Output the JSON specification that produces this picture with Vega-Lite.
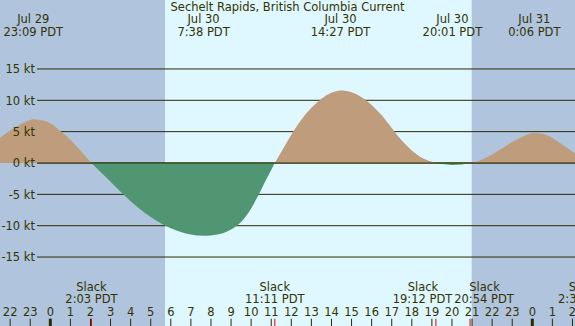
{
  "$schema": "https://vega.github.io/schema/vega-lite/v6.json",
  "width": 575,
  "height": 326,
  "autosize": {"type": "none"},
  "padding": 0,
  "background": "#b0c4de",
  "config": {
    "view": {"stroke": null},
    "axis": {"disable": true},
    "text": {"font": "DejaVu Sans", "fontSize": 11.5, "color": "#333300", "baseline": "alphabetic"}
  },
  "datasets": {
    "daylight": [{"start": 5.711, "end": 20.982, "kind": "day"}],
    "levels": [
      {"v": 15, "label": "15 kt"}, {"v": 10, "label": "10 kt"}, {"v": 5, "label": "5 kt"},
      {"v": 0, "label": "0 kt"}, {"v": -5, "label": "-5 kt"}, {"v": -10, "label": "-10 kt"},
      {"v": -15, "label": "-15 kt"}
    ],
    "curve": [
      {"h": -2.505, "v": 4.0}, {"h": -2.0, "v": 5.2}, {"h": -1.5, "v": 6.15}, {"h": -1.0, "v": 6.85},
      {"h": -0.85, "v": 6.97}, {"h": -0.5, "v": 6.85}, {"h": 0, "v": 6.35}, {"h": 0.5, "v": 5.1},
      {"h": 1.0, "v": 3.7}, {"h": 1.5, "v": 2.0}, {"h": 1.95, "v": 0.35}, {"h": 2.05, "v": 0},
      {"h": 2.15, "v": -0.33}, {"h": 2.5, "v": -1.45}, {"h": 3.0, "v": -3.0}, {"h": 3.5, "v": -4.6},
      {"h": 4.0, "v": -6.1}, {"h": 4.5, "v": -7.45}, {"h": 5.0, "v": -8.6}, {"h": 5.5, "v": -9.6},
      {"h": 6.0, "v": -10.4}, {"h": 6.5, "v": -11.0}, {"h": 7.0, "v": -11.4}, {"h": 7.63, "v": -11.6},
      {"h": 8.0, "v": -11.55}, {"h": 8.25, "v": -11.45}, {"h": 8.5, "v": -11.28}, {"h": 8.75, "v": -11.0},
      {"h": 9.0, "v": -10.62}, {"h": 9.25, "v": -10.1}, {"h": 9.5, "v": -9.4}, {"h": 9.75, "v": -8.45},
      {"h": 10.0, "v": -7.25}, {"h": 10.25, "v": -5.8}, {"h": 10.5, "v": -4.25}, {"h": 10.75, "v": -2.65},
      {"h": 11.0, "v": -1.1}, {"h": 11.1, "v": -0.48},
      {"h": 11.18, "v": 0}, {"h": 11.26, "v": 0.45}, {"h": 11.5, "v": 1.75}, {"h": 12.0, "v": 4.5},
      {"h": 12.5, "v": 6.9}, {"h": 13.0, "v": 8.8}, {"h": 13.5, "v": 10.25}, {"h": 14.0, "v": 11.2},
      {"h": 14.45, "v": 11.58}, {"h": 15.0, "v": 11.3}, {"h": 15.5, "v": 10.5}, {"h": 16.0, "v": 9.25},
      {"h": 16.5, "v": 7.6}, {"h": 17.0, "v": 5.6}, {"h": 17.5, "v": 3.6}, {"h": 18.0, "v": 2.0},
      {"h": 18.5, "v": 0.85}, {"h": 19.0, "v": 0.2}, {"h": 19.2, "v": 0}, {"h": 19.5, "v": -0.17},
      {"h": 20.0, "v": -0.3}, {"h": 20.5, "v": -0.22}, {"h": 20.9, "v": 0}, {"h": 21.5, "v": 0.55},
      {"h": 22.0, "v": 1.35}, {"h": 22.5, "v": 2.35}, {"h": 23.0, "v": 3.35}, {"h": 23.5, "v": 4.2},
      {"h": 24.1, "v": 4.8}, {"h": 24.5, "v": 4.65}, {"h": 25.0, "v": 4.0}, {"h": 25.5, "v": 2.9},
      {"h": 26.126, "v": 1.5}
    ],
    "extremes": [
      {"h": -0.85, "date": "Jul 29", "time": "23:09 PDT"},
      {"h": 7.63, "date": "Jul 30", "time": "7:38 PDT"},
      {"h": 14.45, "date": "Jul 30", "time": "14:27 PDT"},
      {"h": 20.02, "date": "Jul 30", "time": "20:01 PDT"},
      {"h": 24.1, "date": "Jul 31", "time": "0:06 PDT"}
    ],
    "slacks": [
      {"h": 2.05, "time": "2:03 PDT", "group": "alone"},
      {"h": 11.18, "time": "11:11 PDT", "group": "alone"},
      {"h": 19.2, "time": "19:12 PDT", "group": "early"},
      {"h": 20.9, "time": "20:54 PDT", "group": "late"},
      {"h": 26.58, "time": "2:35 PDT", "group": "alone"}
    ],
    "hours": [
      {"h": -2, "label": "22"}, {"h": -1, "label": "23"}, {"h": 0, "label": "0"}, {"h": 1, "label": "1"},
      {"h": 2, "label": "2"}, {"h": 3, "label": "3"}, {"h": 4, "label": "4"}, {"h": 5, "label": "5"},
      {"h": 6, "label": "6"}, {"h": 7, "label": "7"}, {"h": 8, "label": "8"}, {"h": 9, "label": "9"},
      {"h": 10, "label": "10"}, {"h": 11, "label": "11"}, {"h": 12, "label": "12"}, {"h": 13, "label": "13"},
      {"h": 14, "label": "14"}, {"h": 15, "label": "15"}, {"h": 16, "label": "16"}, {"h": 17, "label": "17"},
      {"h": 18, "label": "18"}, {"h": 19, "label": "19"}, {"h": 20, "label": "20"}, {"h": 21, "label": "21"},
      {"h": 22, "label": "22"}, {"h": 23, "label": "23"}, {"h": 24, "label": "0"}, {"h": 25, "label": "1"},
      {"h": 26, "label": "2"}
    ],
    "title": [{"text": "Sechelt Rapids, British Columbia Current"}]
  },
  "layer": [
    {
      "data": {"name": "daylight"},
      "mark": {"type": "rect", "color": "#dff7ff"},
      "encoding": {
        "x": {"field": "start", "type": "quantitative", "scale": {"domain": [-2.505, 26.126], "nice": false, "zero": false}, "axis": null},
        "x2": {"field": "end"},
        "y": {"datum": 26, "type": "quantitative", "scale": {"domain": [-26, 26], "nice": false, "zero": false}, "axis": null},
        "y2": {"datum": -26}
      }
    },
    {
      "data": {"name": "levels"},
      "mark": {"type": "rule", "color": "#2b2b00", "strokeWidth": 1},
      "encoding": {
        "y": {"field": "v", "type": "quantitative"},
        "x": {"datum": -0.662, "type": "quantitative"},
        "x2": {"datum": 26.126}
      }
    },
    {
      "data": {"name": "curve"},
      "transform": [{"filter": "datum.v >= 0"}],
      "mark": {"type": "area", "orient": "vertical", "interpolate": "monotone", "color": "#be9c7c"},
      "encoding": {
        "x": {"field": "h", "type": "quantitative"},
        "y": {"field": "v", "type": "quantitative"},
        "y2": {"datum": 0}
      }
    },
    {
      "data": {"name": "curve"},
      "transform": [{"filter": "datum.v <= 0"}],
      "mark": {"type": "area", "orient": "vertical", "interpolate": "monotone", "color": "#509673"},
      "encoding": {
        "x": {"field": "h", "type": "quantitative"},
        "y": {"field": "v", "type": "quantitative"},
        "y2": {"datum": 0}
      }
    },
    {
      "data": {"name": "levels"},
      "transform": [{"filter": "datum.v == 0"}],
      "mark": {"type": "rule", "color": "#2b2b00", "strokeWidth": 1},
      "encoding": {
        "y": {"field": "v", "type": "quantitative"},
        "x": {"datum": -0.662, "type": "quantitative"},
        "x2": {"datum": 26.126}
      }
    },
    {
      "data": {"name": "levels"},
      "mark": {"type": "text", "align": "right", "dx": -2, "dy": 4.3},
      "encoding": {
        "y": {"field": "v", "type": "quantitative"},
        "x": {"datum": -0.662, "type": "quantitative"},
        "text": {"field": "label"}
      }
    },
    {
      "data": {"name": "title"},
      "mark": {"type": "text", "align": "center"},
      "encoding": {
        "x": {"datum": 11.81, "type": "quantitative"},
        "y": {"datum": 24.25, "type": "quantitative"},
        "text": {"field": "text"}
      }
    },
    {
      "data": {"name": "extremes"},
      "mark": {"type": "text", "align": "center"},
      "encoding": {
        "x": {"field": "h", "type": "quantitative"},
        "y": {"datum": 22.28, "type": "quantitative"},
        "text": {"field": "date"}
      }
    },
    {
      "data": {"name": "extremes"},
      "mark": {"type": "text", "align": "center"},
      "encoding": {
        "x": {"field": "h", "type": "quantitative"},
        "y": {"datum": 20.31, "type": "quantitative"},
        "text": {"field": "time"}
      }
    },
    {
      "data": {"name": "slacks"},
      "transform": [{"filter": "datum.group == 'alone'"}],
      "layer": [
        {
          "mark": {"type": "text", "align": "center", "text": "Slack"},
          "encoding": {
            "x": {"field": "h", "type": "quantitative"},
            "y": {"datum": -20.47, "type": "quantitative"}
          }
        },
        {
          "mark": {"type": "text", "align": "center"},
          "encoding": {
            "x": {"field": "h", "type": "quantitative"},
            "y": {"datum": -22.38, "type": "quantitative"},
            "text": {"field": "time"}
          }
        }
      ]
    },
    {
      "data": {"name": "slacks"},
      "transform": [{"filter": "datum.group == 'early'"}],
      "layer": [
        {
          "mark": {"type": "text", "align": "center", "text": "Slack", "dx": -13},
          "encoding": {
            "x": {"field": "h", "type": "quantitative"},
            "y": {"datum": -20.47, "type": "quantitative"}
          }
        },
        {
          "mark": {"type": "text", "align": "center", "dx": -13.4},
          "encoding": {
            "x": {"field": "h", "type": "quantitative"},
            "y": {"datum": -22.38, "type": "quantitative"},
            "text": {"field": "time"}
          }
        }
      ]
    },
    {
      "data": {"name": "slacks"},
      "transform": [{"filter": "datum.group == 'late'"}],
      "layer": [
        {
          "mark": {"type": "text", "align": "center", "text": "Slack", "dx": 14.5},
          "encoding": {
            "x": {"field": "h", "type": "quantitative"},
            "y": {"datum": -20.47, "type": "quantitative"}
          }
        },
        {
          "mark": {"type": "text", "align": "center", "dx": 14},
          "encoding": {
            "x": {"field": "h", "type": "quantitative"},
            "y": {"datum": -22.38, "type": "quantitative"},
            "text": {"field": "time"}
          }
        }
      ]
    },
    {
      "data": {"name": "hours"},
      "mark": {"type": "text", "align": "center"},
      "encoding": {
        "x": {"field": "h", "type": "quantitative"},
        "y": {"datum": -24.36, "type": "quantitative"},
        "text": {"field": "label"}
      }
    },
    {
      "data": {"name": "hours"},
      "mark": {"type": "rule", "color": "#2b2b00", "strokeWidth": 1},
      "encoding": {
        "x": {"field": "h", "type": "quantitative"},
        "y": {"datum": -24.84, "type": "quantitative"},
        "y2": {"datum": -26}
      }
    },
    {
      "data": {"name": "hours"},
      "transform": [{"filter": "datum.label == '0'"}],
      "mark": {"type": "rule", "color": "#2b2b00", "strokeWidth": 3},
      "encoding": {
        "x": {"field": "h", "type": "quantitative"},
        "y": {"datum": -24.84, "type": "quantitative"},
        "y2": {"datum": -26}
      }
    },
    {
      "data": {"name": "slacks"},
      "mark": {"type": "rule", "color": "#e00000", "strokeWidth": 1},
      "encoding": {
        "x": {"field": "h", "type": "quantitative"},
        "y": {"datum": -24.84, "type": "quantitative"},
        "y2": {"datum": -26}
      }
    }
  ]
}
